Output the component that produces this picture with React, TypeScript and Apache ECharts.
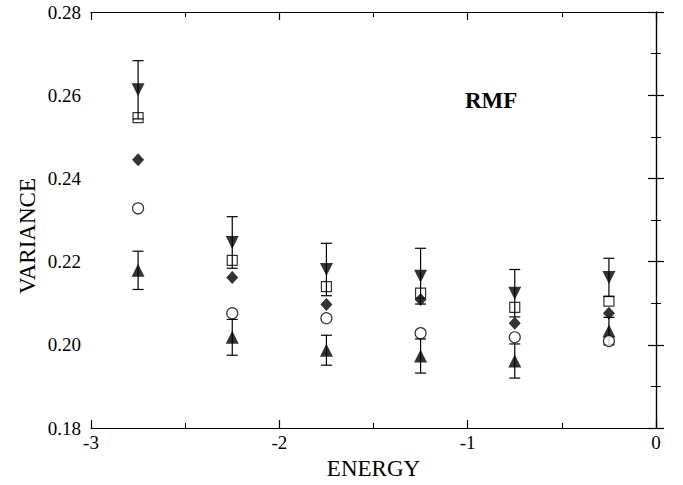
import React, { useEffect, useRef } from "react";
import * as echarts from "echarts";

// Energy bins (x positions of each group of markers)
const energy = [-2.75, -2.25, -1.75, -1.25, -0.75, -0.25];

// Variance values per series
const downTriangle = [0.2613, 0.2246, 0.2181, 0.2165, 0.2124, 0.2162];
const downTriangleErr = [0.007, 0.0062, 0.0063, 0.0067, 0.0057, 0.0046];
const openSquare = [0.2546, 0.2203, 0.214, 0.2124, 0.209, 0.2105];
const filledDiamond = [0.2445, 0.2162, 0.2097, 0.2109, 0.2052, 0.2076];
const openCircle = [0.2328, 0.2076, 0.2064, 0.2028, 0.2018, 0.2009];
const upTriangle = [0.2179, 0.2018, 0.1987, 0.1973, 0.1961, 0.2033];
const upTriangleErr = [0.0046, 0.0043, 0.0036, 0.0041, 0.0041, 0.0033];

const FONT = "'Liberation Serif', 'Times New Roman', serif";

const pairs = (ys: number[]) => energy.map((x, i) => [x, ys[i]]);
const errRows = (ys: number[], es: number[]) =>
  energy.map((x, i) => [x, ys[i] - es[i], ys[i] + es[i]]);

const errorBarSeries = (name: string, ys: number[], es: number[]) => ({
  name,
  type: "custom",
  z: 3,
  data: errRows(ys, es),
  renderItem: (_params: any, api: any) => {
    const x = api.value(0);
    const lo = api.coord([x, api.value(1)]);
    const hi = api.coord([x, api.value(2)]);
    const half = 5.5;
    const style = { stroke: "#000", lineWidth: 1.2 };
    return {
      type: "group",
      children: [
        { type: "line", shape: { x1: lo[0], y1: lo[1], x2: hi[0], y2: hi[1] }, style },
        { type: "line", shape: { x1: lo[0] - half, y1: lo[1], x2: lo[0] + half, y2: lo[1] }, style },
        { type: "line", shape: { x1: hi[0] - half, y1: hi[1], x2: hi[0] + half, y2: hi[1] }, style },
      ],
    };
  },
});

export default function App() {
  const ref = useRef<HTMLDivElement>(null);

  useEffect(() => {
    if (!ref.current) return;
    document.body.style.margin = "0";
    const chart = echarts.init(ref.current, undefined, { renderer: "svg", width: 683, height: 485 });

    const axisCommon = {
      axisLine: { show: true, lineStyle: { color: "#000", width: 1.2 } },
      axisTick: { show: true, inside: true, length: 8, lineStyle: { color: "#000", width: 1.2 } },
      minorTick: { show: true, splitNumber: 2, length: 5, lineStyle: { color: "#000", width: 1 } },
      splitLine: { show: false },
    };

    chart.setOption({
      animation: false,
      backgroundColor: "#fff",
      grid: { left: 91, right: 27, top: 12, bottom: 50, containLabel: false },
      xAxis: [
        {
          ...axisCommon,
          type: "value",
          min: -3,
          max: 0,
          interval: 1,
          position: "bottom",
          name: "ENERGY",
          nameLocation: "middle",
          nameGap: 29,
          nameTextStyle: { fontFamily: FONT, fontSize: 23, color: "#000" },
          axisLabel: { fontFamily: FONT, fontSize: 19, color: "#000", margin: 5 },
        },
        {
          ...axisCommon,
          type: "value",
          min: -3,
          max: 0,
          interval: 1,
          position: "top",
          axisLabel: { show: false },
        },
      ],
      yAxis: [
        {
          ...axisCommon,
          type: "value",
          min: 0.18,
          max: 0.28,
          interval: 0.02,
          position: "left",
          axisLabel: {
            fontFamily: FONT,
            fontSize: 19,
            color: "#000",
            margin: 10,
            formatter: (v: number) => v.toFixed(2),
          },
        },
        {
          ...axisCommon,
          type: "value",
          min: 0.18,
          max: 0.28,
          interval: 0.02,
          position: "right",
          axisLabel: { show: false },
        },
      ],
      graphic: [
        {
          type: "text",
          x: 27,
          y: 236,
          rotation: Math.PI / 2,
          style: {
            text: "VARIANCE",
            font: `23px ${FONT}`,
            fill: "#000",
            align: "center",
            verticalAlign: "middle",
          },
        },
        {
          type: "text",
          left: 465,
          top: 89,
          style: {
            text: "RMF",
            font: `bold 23px ${FONT}`,
            fill: "#000",
          },
        },
      ],
      series: [
        errorBarSeries("down-err", downTriangle, downTriangleErr),
        errorBarSeries("up-err", upTriangle, upTriangleErr),
        {
          name: "down",
          type: "scatter",
          z: 4,
          symbol: "triangle",
          symbolRotate: 180,
          symbolSize: [13, 13],
          itemStyle: { color: "#000" },
          data: pairs(downTriangle),
        },
        {
          name: "square",
          type: "scatter",
          z: 4,
          symbol: "rect",
          symbolSize: 10,
          itemStyle: { color: "rgba(0,0,0,0)", borderColor: "#000", borderWidth: 1.2 },
          data: pairs(openSquare),
        },
        {
          name: "diamond",
          type: "scatter",
          z: 4,
          symbol: "diamond",
          symbolSize: [12, 13],
          itemStyle: { color: "#000" },
          data: pairs(filledDiamond),
        },
        {
          name: "circle",
          type: "scatter",
          z: 5,
          symbol: "circle",
          symbolSize: 11,
          itemStyle: { color: "#fff", borderColor: "#000", borderWidth: 1.2 },
          data: pairs(openCircle),
        },
        {
          name: "up",
          type: "scatter",
          z: 4,
          symbol: "triangle",
          symbolSize: [13, 13],
          itemStyle: { color: "#000" },
          data: pairs(upTriangle),
        },
      ],
    });

    return () => chart.dispose();
  }, []);

  return <div ref={ref} style={{ width: 683, height: 485 }} />;
}
